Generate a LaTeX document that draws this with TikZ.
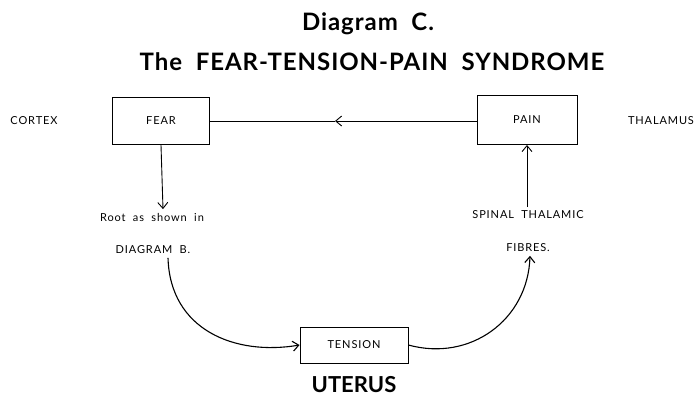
\documentclass[tikz,border=0pt]{standalone}
\usepackage{fontspec}
\setmainfont{Lato}
\usetikzlibrary{arrows.meta}

\begin{document}
\begin{tikzpicture}[x=1pt, y=-1pt, line width=0.9pt,
        >={Straight Barb[length=6pt,width=10pt]},
        box/.style={draw, inner sep=0pt, font=\fontsize{11}{12}\selectfont\addfontfeatures{LetterSpace=8}},
        lbl/.style={font=\fontsize{11}{12}\selectfont\addfontfeatures{LetterSpace=8}},
        head/.style={font=\bfseries\fontsize{24}{27}\selectfont\addfontfeatures{LetterSpace=4}}]
        \useasboundingbox (0,0) rectangle (697,400);

        \node[head] (diagc) at (368,24) {Diagram\ \ C.};
        \node[head] (syndrome) at (372,62) {The\ \ FEAR-TENSION-PAIN\ \ SYNDROME};

        \node[box, minimum width=97pt, minimum height=47pt] (fear) at (161,121) {FEAR};
        \node[box, minimum width=100pt, minimum height=49pt] (pain) at (527,120) {PAIN};
        \node[box, minimum width=108pt, minimum height=36pt] (tension) at (354,345) {TENSION};
        \node[head, font=\bfseries\fontsize{22}{24}\selectfont] (uterus) at (354,385) {UTERUS};

        \node[lbl] (cortex) at (34,121) {CORTEX};
        \node[lbl] (thalamus) at (661,121) {THALAMUS};
        \node[lbl] (root) at (152,217) {Root\ \ as\ \ shown\ \ in};
        \node[lbl] (diagb) at (153,250) {DIAGRAM\ \ B.};
        \node[lbl] (spinal) at (528,215) {SPINAL\ \ THALAMIC};
        \node[lbl] (fibres) at (528,248) {FIBRES.};

        \coordinate (mid) at (335,121);
        \draw[->] (pain.west |- fear.east) -- (mid);
        \draw (mid) -- (fear.east);
        \draw[->] (fear.south) -- (root.north -| 163,0);
        \draw[->] (spinal.north -| pain.south) -- (pain.south);
        \draw[->, line width=1.1pt] (diagb.south -| 168,0) .. controls (170,330) and (235,356) .. (tension.west);
        \draw[->, line width=1.1pt] (tension.east) .. controls (470,362) and (528,320) .. (fibres.south -| 530,0);
    \end{tikzpicture}
\end{document}
